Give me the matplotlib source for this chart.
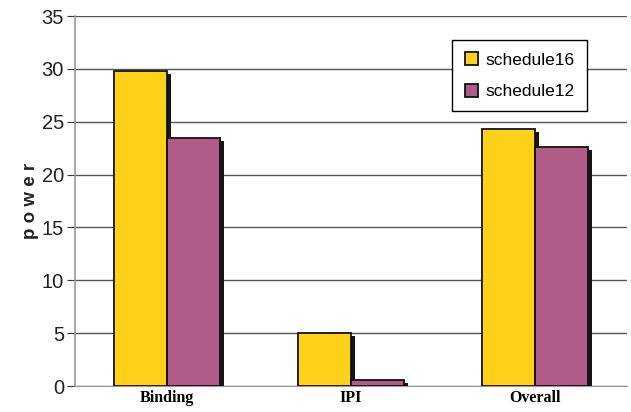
import matplotlib
matplotlib.use("Agg")
import matplotlib.pyplot as plt
import matplotlib.patheffects as pe
import numpy as np

categories = ['Binding', 'IPI', 'Overall']
schedule16 = [29.8, 5.0, 24.3]
schedule12 = [23.5, 0.6, 22.6]
yticks = [0, 5, 10, 15, 20, 25, 30, 35]

plt.rcParams['font.family'] = ['Liberation Sans', 'DejaVu Sans']

fig = plt.figure(figsize=(6.31, 4.12), dpi=100)
ax = fig.add_axes([75 / 631, 26 / 412, 552 / 631, 370 / 412])

x = np.arange(len(categories))
width = 0.29
shadow = [pe.SimplePatchShadow(offset=(2.8, -2.2), shadow_rgbFace='#151515', alpha=1.0), pe.Normal()]

b1 = ax.bar(x - width / 2, schedule16, width, color='#FFD219', edgecolor='#111111',
            linewidth=1.3, label='schedule16', zorder=3)
b2 = ax.bar(x + width / 2, schedule12, width, color='#B05C86', edgecolor='#111111',
            linewidth=1.3, label='schedule12', zorder=3)
for r in list(b1) + list(b2):
    r.set_path_effects(shadow)

ax.set_xlim(-0.5, 2.5)
ax.set_ylim(0, 35)
ax.set_yticks(yticks)
ax.set_yticklabels([str(t) for t in yticks], fontsize=14.5, color='#222222')
ax.set_xticks(x)
ax.set_xticklabels(categories, fontsize=11.5, fontweight='bold', family='Liberation Serif')
ax.tick_params(axis='x', length=0, pad=3)
ax.tick_params(axis='y', length=6, color='#333333', pad=2)
ax.yaxis.grid(True, color='#555555', linewidth=1.0, zorder=0)
ax.set_axisbelow(True)

for s in ['top', 'right']:
    ax.spines[s].set_visible(False)
ax.spines['left'].set_color('#999999')
ax.spines['bottom'].set_color('#999999')
ax.spines['left'].set_linewidth(1.2)

ax.set_ylabel('p o w e r', fontsize=13.5, fontweight='bold', color='#222222', labelpad=2)

leg = ax.legend(loc='upper right', bbox_to_anchor=(0.927, 0.935), fontsize=12.5,
                fancybox=False, edgecolor='black', framealpha=1, handlelength=0.8,
                handleheight=0.8, handletextpad=0.4, borderpad=0.7, labelspacing=0.9,
                borderaxespad=0)
leg.get_frame().set_linewidth(1.0)
leg.set_zorder(5)
for h in leg.legend_handles:
    h.set_path_effects([])

fig.savefig('out.png', dpi=100)
